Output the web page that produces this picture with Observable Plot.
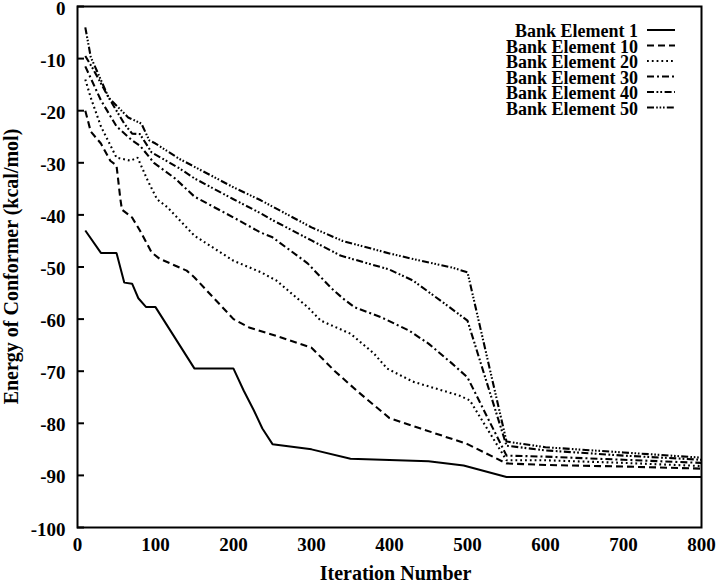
<!DOCTYPE html>
<html>
<head>
<meta charset="utf-8">
<script src="https://cdn.jsdelivr.net/npm/d3@7"></script>
<script src="https://cdn.jsdelivr.net/npm/@observablehq/plot@0.6"></script>
<style>
  html, body { margin: 0; padding: 0; background: #fff; }
  #chart { width: 720px; height: 583px; }
</style>
</head>
<body>
<div id="chart"></div>
<script>
// ---- Data (iteration number, energy in kcal/mol) ----
const seriesNames = ["Bank Element 1", "Bank Element 10", "Bank Element 20", "Bank Element 30", "Bank Element 40", "Bank Element 50"];

const bank1 = [[10,-43],[30,-47.3],[50,-47.3],[60,-53],[70,-53.2],[78,-56],[88,-57.7],[100,-57.7],[150,-69.5],[200,-69.5],[213,-73.7],[226,-77.5],[237,-81],[250,-84],[300,-85],[350,-86.8],[450,-87.3],[495,-88.1],[550,-90.3],[800,-90.3]];
const bank10 = [[10,-20],[17,-24],[30,-26.3],[42,-29.6],[50,-30.5],[55,-37],[57,-39],[70,-40.5],[80,-43],[95,-47.2],[105,-48.4],[140,-50.7],[150,-52],[175,-56],[200,-60],[220,-61.6],[250,-63],[300,-65.5],[330,-70],[360,-74],[400,-79],[440,-81],[500,-84],[550,-87.7],[600,-88],[700,-88.3],[800,-88.7]];
const bank20 = [[10,-14],[17,-17.5],[30,-23],[50,-29],[68,-29.6],[77,-29],[90,-33.4],[102,-37],[115,-38.5],[150,-44],[200,-48.8],[235,-51],[255,-52.6],[295,-57.7],[312,-60.3],[350,-62.8],[380,-66.6],[397,-69.5],[430,-72],[490,-74.7],[503,-75.6],[550,-87.1],[600,-87.1],[700,-87.6],[800,-88.2]];
const bank30 = [[10,-11.5],[30,-18],[50,-23],[70,-25.7],[80,-26.7],[98,-30],[125,-33],[150,-36.5],[200,-40.5],[235,-43.4],[250,-44.3],[295,-49.3],[325,-54],[340,-56],[355,-57.7],[390,-59.7],[425,-62.2],[450,-64.7],[480,-68.5],[500,-71.2],[550,-86.2],[600,-86.4],[700,-87],[800,-87.6]];
const bank40 = [[10,-9.5],[20,-12],[40,-17.5],[60,-22.5],[70,-24.4],[80,-24.5],[95,-28],[130,-31],[150,-33],[200,-37],[235,-39.7],[250,-41],[300,-44.9],[337,-47.8],[400,-50.5],[430,-52.6],[465,-56.4],[500,-60.3],[550,-84.3],[600,-85.2],[700,-86.2],[800,-87]];
const bank50 = [[10,-4],[17,-9.7],[40,-17.5],[65,-21.3],[78,-22.2],[82,-22.5],[92,-25.7],[100,-26.3],[130,-29.2],[200,-34.7],[235,-37.2],[300,-42.4],[340,-45],[400,-47.4],[440,-48.8],[480,-50.1],[500,-51],[550,-83.5],[600,-84.6],[700,-85.6],[800,-86.6]];

const xTicks = [0, 100, 200, 300, 400, 500, 600, 700, 800];
const yTicks = [0, -10, -20, -30, -40, -50, -60, -70, -80, -90, -100];
const xLabel = "Iteration Number";
const yLabel = "Energy of Conformer (kcal/mol)";

// ---- Styles ----
const allSeries = [bank1, bank10, bank20, bank30, bank40, bank50];
const dashes = [null, "7,4", "1.8,3", "7,3,2,3", "7,2.5,1.8,2,1.8,2.5", "7,2.2,1.6,1.8,1.6,1.8,1.6,2.2"];
const font = "'Liberation Serif', 'Times New Roman', serif";

const W = 720, H = 583;
const mL = 77, mR = 19, mT = 6, mB = 56;
const tickLen = 7;

const lineMarks = allSeries.map((s, i) => Plot.line(s, {
  x: d => d[0], y: d => d[1],
  stroke: "black", strokeWidth: i === 0 ? 2 : 2.1,
  strokeDasharray: dashes[i] ?? undefined,
  strokeLinejoin: "miter", strokeLinecap: "butt"
}));

const chart = Plot.plot({
  width: W, height: H,
  marginTop: mT, marginRight: mR, marginBottom: mB, marginLeft: mL,
  x: { domain: [0, 800] },
  y: { domain: [-100, 0] },
  style: { fontFamily: font, fontWeight: "bold", background: "#fff", color: "black", overflow: "visible" },
  marks: [
    ...lineMarks,
    Plot.tickY(yTicks, { y: d => d, stroke: "black", strokeWidth: 2, insetRight: W - mL - mR - tickLen }),
    Plot.axisY(yTicks, { tickSize: 0, tickPadding: 12, fontSize: 19, fontWeight: "bold", tickFormat: d => String(d), label: null, dy: 2 }),
    Plot.axisX(xTicks, { tickSize: 0, tickPadding: 10, fontSize: 19, fontWeight: "bold", tickFormat: d => String(d), label: null }),
    Plot.text([xLabel], { frameAnchor: "bottom", dx: 6, dy: 46, fontSize: 20, fontWeight: "bold", lineAnchor: "middle", fill: "black" }),
    Plot.frame({ stroke: "black", strokeWidth: 2 })
  ]
});

document.getElementById("chart").appendChild(chart);

const svg = d3.select(chart);

// ---- Y axis title (rotated) ----
svg.append("text")
  .attr("transform", `translate(11,${(mT + H - mB) / 2}) rotate(-90)`)
  .attr("text-anchor", "middle")
  .attr("dominant-baseline", "central")
  .attr("font-family", font).attr("font-weight", "bold").attr("font-size", 20)
  .attr("fill", "black")
  .text(yLabel);

// ---- Legend (inside the plot frame, top right) ----
const legend = svg.append("g").attr("font-family", font).attr("font-weight", "bold").attr("font-size", 18);
const textRight = 638, lineX1 = 647, lineX2 = 675;
const baselines = [37, 52.5, 68, 83.5, 99, 114.5];
seriesNames.forEach((name, i) => {
  legend.append("text")
    .attr("x", textRight).attr("y", baselines[i])
    .attr("text-anchor", "end").attr("fill", "black")
    .text(name);
  legend.append("line")
    .attr("x1", lineX1).attr("x2", lineX2)
    .attr("y1", baselines[i] - 7).attr("y2", baselines[i] - 7)
    .attr("stroke", "black").attr("stroke-width", 2)
    .attr("stroke-dasharray", dashes[i] ?? null);
});
</script>
</body>
</html>
